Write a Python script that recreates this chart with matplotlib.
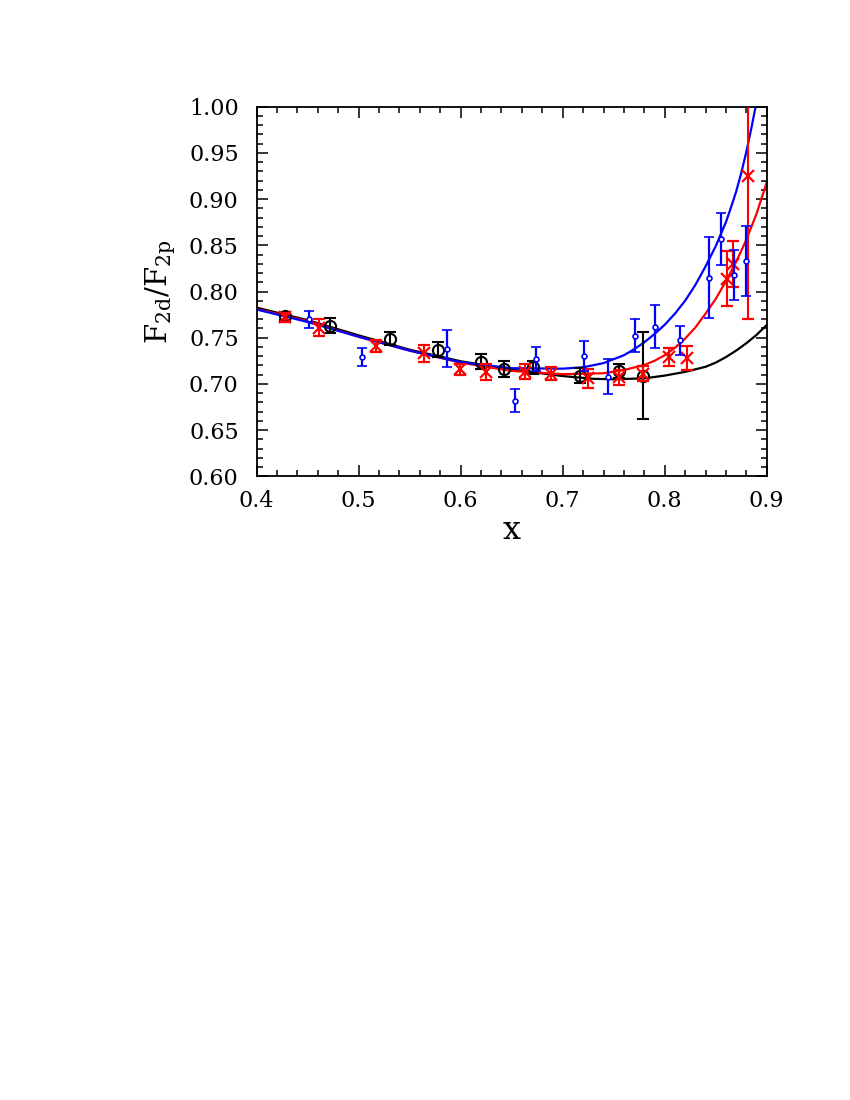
import matplotlib
matplotlib.use('Agg')
import matplotlib.pyplot as plt
from matplotlib.ticker import MultipleLocator, FormatStrFormatter

# data points
black_x = [0.428, 0.472, 0.531, 0.578, 0.620, 0.642, 0.671, 0.717, 0.755, 0.779]
black_y = [0.773, 0.763, 0.749, 0.737, 0.724, 0.716, 0.718, 0.709, 0.714, 0.709]
black_err = [0.004, 0.008, 0.007, 0.008, 0.008, 0.009, 0.007, 0.008, 0.008, 0.047]

red_x = [0.428, 0.461, 0.517, 0.564, 0.599, 0.625, 0.663, 0.689, 0.725, 0.755,
         0.779, 0.804, 0.822, 0.861, 0.867, 0.882]
red_y = [0.772, 0.761, 0.741, 0.733, 0.716, 0.713, 0.713, 0.711, 0.706, 0.707,
         0.711, 0.729, 0.728, 0.814, 0.830, 0.925]
red_err = [0.005, 0.009, 0.006, 0.009, 0.006, 0.009, 0.008, 0.007, 0.010, 0.008,
           0.008, 0.010, 0.013, 0.030, 0.025, 0.155]

blue_x = [0.451, 0.503, 0.587, 0.653, 0.674, 0.721, 0.744, 0.771, 0.790, 0.815,
          0.843, 0.855, 0.868, 0.880]
blue_y = [0.770, 0.729, 0.738, 0.682, 0.727, 0.730, 0.708, 0.752, 0.762, 0.747,
          0.815, 0.857, 0.818, 0.833]
blue_err = [0.009, 0.010, 0.020, 0.012, 0.013, 0.016, 0.019, 0.018, 0.023, 0.016,
            0.044, 0.028, 0.027, 0.038]

# curves
curve_black_x = [0.40, 0.45, 0.50, 0.55, 0.60, 0.65, 0.70, 0.73, 0.75, 0.78,
                 0.80, 0.82, 0.84, 0.85, 0.86, 0.87, 0.88, 0.89, 0.90]
curve_black_y = [0.7825, 0.769, 0.7525, 0.737, 0.7245, 0.7155, 0.7085, 0.7055,
                 0.705, 0.706, 0.709, 0.713, 0.7185, 0.723, 0.729, 0.736,
                 0.744, 0.753, 0.7637]

curve_red_x = [0.40, 0.45, 0.50, 0.55, 0.60, 0.65, 0.70, 0.74, 0.76, 0.78,
               0.79, 0.80, 0.81, 0.82, 0.83, 0.84, 0.85, 0.86, 0.87, 0.88,
               0.89, 0.90]
curve_red_y = [0.781, 0.768, 0.751, 0.736, 0.723, 0.714, 0.7105, 0.7115, 0.715,
               0.7205, 0.725, 0.731, 0.739, 0.749, 0.761, 0.776, 0.792, 0.811,
               0.832, 0.856, 0.884, 0.918]

curve_blue_x = [0.40, 0.45, 0.50, 0.55, 0.60, 0.65, 0.70, 0.72, 0.74, 0.76,
                0.77, 0.78, 0.79, 0.80, 0.81, 0.82, 0.83, 0.84, 0.85, 0.86,
                0.865, 0.87, 0.875, 0.88, 0.885, 0.89, 0.895]
curve_blue_y = [0.7805, 0.767, 0.751, 0.736, 0.7235, 0.717, 0.7165, 0.718,
                0.7225, 0.731, 0.7375, 0.745, 0.754, 0.764, 0.776, 0.790,
                0.807, 0.827, 0.849, 0.875, 0.891, 0.908, 0.928, 0.951,
                0.977, 1.005, 1.04]

plt.rcParams['font.family'] = 'DejaVu Serif'
plt.rcParams['mathtext.fontset'] = 'dejavuserif'

fig = plt.figure(figsize=(8.5, 11), dpi=100)
ax = fig.add_axes([0.302, 0.567, 0.600, 0.336])

ax.plot(curve_black_x, curve_black_y, color='black', lw=1.6, zorder=2)
ax.plot(curve_red_x, curve_red_y, color='red', lw=1.6, zorder=2)
ax.plot(curve_blue_x, curve_blue_y, color='blue', lw=1.6, zorder=2)

ax.errorbar(black_x, black_y, yerr=black_err, fmt='o', color='black', mfc='none',
            ms=8, mew=1.5, elinewidth=1.5, capsize=4, capthick=1.5, zorder=3)
ax.errorbar(red_x, red_y, yerr=red_err, fmt='x', color='red', ms=8, mew=1.6,
            elinewidth=1.5, capsize=4, capthick=1.5, zorder=4)
ax.errorbar(blue_x, blue_y, yerr=blue_err, fmt='o', color='blue', mfc='white',
            ms=3.5, mew=1.2, elinewidth=1.6, capsize=3.5, capthick=1.6, zorder=5)

ax.set_xlim(0.4, 0.9)
ax.set_ylim(0.6, 1.0)
ax.xaxis.set_major_locator(MultipleLocator(0.1))
ax.xaxis.set_minor_locator(MultipleLocator(0.02))
ax.yaxis.set_major_locator(MultipleLocator(0.05))
ax.yaxis.set_minor_locator(MultipleLocator(0.01))
ax.xaxis.set_major_formatter(FormatStrFormatter('%.1f'))
ax.yaxis.set_major_formatter(FormatStrFormatter('%.2f'))
ax.tick_params(which='both', direction='in', top=True, right=True, width=1.1)
ax.tick_params(which='major', length=8, labelsize=16)
ax.tick_params(axis='x', which='major', pad=10)
ax.tick_params(axis='y', which='major', pad=13)
ax.tick_params(which='minor', length=4)
for s in ax.spines.values():
    s.set_linewidth(1.3)

ax.set_xlabel('x', fontsize=23, labelpad=2)
ax.set_ylabel(r'$\mathrm{F_{2d}/F_{2p}}$', fontsize=21, labelpad=8)

fig.savefig('out.png', dpi=100)
